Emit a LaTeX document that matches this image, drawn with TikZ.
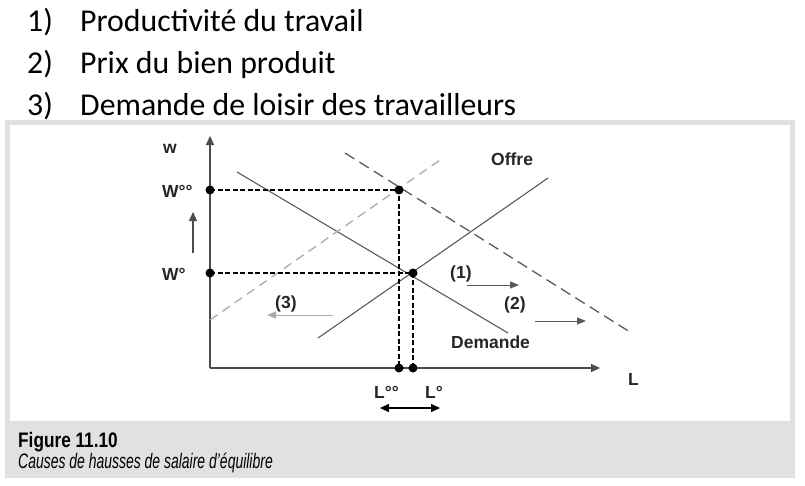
\documentclass[tikz,border=0pt]{standalone}
\usepackage{fontspec}
\usepackage{tikz}
\usetikzlibrary{arrows.meta}
\setmainfont{Carlito}
\newfontfamily\arialfont{Liberation Sans}
\definecolor{framegray}{HTML}{E1E1E1}
\definecolor{curvegray}{HTML}{5A5A5A}
\definecolor{lightgray}{HTML}{ABABAB}

\begin{document}
\begin{tikzpicture}[x=1pt,y=-1pt,
  listtxt/.style={anchor=base west,inner sep=0pt,font=\fontsize{31.8}{36}\selectfont},
  lbl/.style={anchor=base west,inner sep=0pt,font=\arialfont\bfseries\fontsize{17.5}{20}\selectfont,text=black!85},
  axis/.style={draw=black!70,line width=1.3pt,-{Triangle[length=9pt,width=8pt]}},
  curve/.style={draw=curvegray,line width=1.1pt},
  guide/.style={draw=black,line width=2.4pt,dash pattern=on 5pt off 2.5pt},
  dot/.style={circle,fill=black,inner sep=0pt,minimum size=9pt}]
\useasboundingbox (0,0) rectangle (805,485);
% frame and caption band
\fill[framegray] (5,120) rectangle (795,478);
\fill[white] (10,125) rectangle (790,421);
\node[anchor=base west,inner sep=0pt] (fig) at (18,447)
  {\scalebox{0.82}[1]{\arialfont\bfseries\fontsize{21}{24}\selectfont Figure 11.10}};
\node[anchor=base west,inner sep=0pt] (cap) at (18,468)
  {\scalebox{0.665}[1]{\arialfont\itshape\fontsize{21}{24}\selectfont Causes de hausses de salaire d’équilibre}};
% list
\node[listtxt] (n1) at (27,31) {1)};
\node[listtxt] (t1) at (80,31) {Productivité du travail};
\node[listtxt] (n2) at (27,73) {2)};
\node[listtxt] (t2) at (80,73) {Prix du bien produit};
\node[listtxt] (n3) at (27,115) {3)};
\node[listtxt] (t3) at (80,115) {Demande de loisir des travailleurs};
% axes
\coordinate (O) at (210,368);
\coordinate (ytop) at (210,136);
\coordinate (xend) at (600,368);
\draw[axis] (O) -- (ytop);
\draw[axis] (O) -- (xend);
\node[lbl] (w) at (163,153) {w};
\node[lbl] (L) at (628,385) {L};
% curves
\coordinate (d1) at (237,172);
\coordinate (d2) at (508,333);
\coordinate (s1) at (318,338);
\coordinate (s2) at (548,178);
\coordinate (ns1) at (210,320);
\coordinate (ns2) at (440,160);
\coordinate (nd1) at (345,153);
\coordinate (nd2) at (630,332);
\draw[curve] (d1) -- (d2);
\draw[curve] (s1) -- (s2);
\draw[draw=lightgray,line width=1.3pt,dash pattern=on 9pt off 6pt] (ns1) -- (ns2);
\draw[draw=curvegray,line width=1.3pt,dash pattern=on 11pt off 6pt] (nd1) -- (nd2);
\node[lbl] (offre) at (491,165) {Offre};
\node[lbl] (dem) at (451,348) {Demande};
% equilibria
\coordinate (Wss) at (210,190);
\coordinate (Ws) at (210,273);
\coordinate (Ess) at (399,190);
\coordinate (Es) at (413,273);
\coordinate (Lss) at (399,368);
\coordinate (Ls) at (413,368);
\draw[guide] (Wss) -- (Ess) -- (Lss);
\draw[guide] (Ws) -- (Es) -- (Ls);
\node[dot] (pWss) at (Wss) {};
\node[dot] (pWs) at (Ws) {};
\node[dot] (pEss) at (Ess) {};
\node[dot] (pEs) at (Es) {};
\node[dot] (pLss) at (Lss) {};
\node[dot] (pLs) at (Ls) {};
\node[lbl] (lWss) at (162,197.5) {W°°};
\node[lbl] (lWs) at (162,280) {W°};
\node[lbl] (lLss) at (374,398) {L°°};
\node[lbl] (lLs) at (425,398) {L°};
% shifts
\coordinate (up1) at (193,253);
\coordinate (up2) at (193,212);
\draw[draw=black!70,line width=1.1pt,-{Triangle[length=9pt,width=8pt]}] (up1) -- (up2);
\coordinate (dl1) at (380,408);
\coordinate (dl2) at (440,408);
\draw[draw=black,line width=1.1pt,{Triangle[length=9pt,width=8pt]}-{Triangle[length=9pt,width=8pt]}] (dl1) -- (dl2);
\node[lbl] (c1) at (450,278) {(1)};
\node[lbl] (c2) at (504,309) {(2)};
\node[lbl] (c3) at (275,308) {(3)};
\coordinate (a1) at (467,285);
\coordinate (b1) at (519,285);
\coordinate (a2) at (535,321);
\coordinate (b2) at (586,321);
\coordinate (a3) at (333,315);
\coordinate (b3) at (267,315);
\draw[draw=curvegray,line width=1pt,-{Triangle[length=9pt,width=7pt]}] (a1) -- (b1);
\draw[draw=curvegray,line width=1pt,-{Triangle[length=9pt,width=7pt]}] (a2) -- (b2);
\draw[draw=lightgray,line width=1pt,-{Triangle[length=9pt,width=7pt]}] (a3) -- (b3);
\end{tikzpicture}
\end{document}
